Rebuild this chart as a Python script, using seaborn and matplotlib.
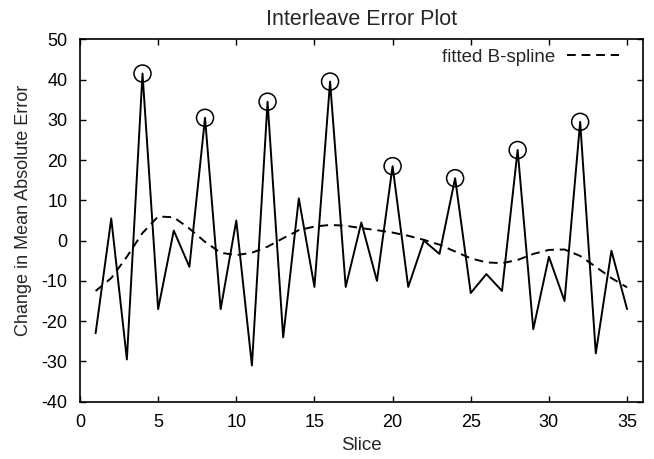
import matplotlib
matplotlib.use("Agg")
import matplotlib.pyplot as plt
import seaborn as sns
import pandas as pd

# valores
slices = list(range(1, 36))
mae_change = [-23, 5.5, -29.5, 41.5, -17, 2.5, -6.5, 30.5, -17, 5, -31,
              34.5, -24, 10.5, -11.5, 39.5, -11.5, 4.5, -10, 18.5, -11.5,
              0, -3.3, 15.5, -13, -8.3, -12.5, 22.5, -22, -4, -15,
              29.5, -28, -2.5, -17]
spline = [-12.5, -9.3, -4, 1.9, 6, 5.8, 3, -0.3, -3, -3.6, -3,
          -1.5, 0.6, 2.6, 3.5, 3.9, 3.7, 3.1, 2.6, 2.0, 1.2,
          0.2, -1, -2.7, -4.4, -5.4, -5.6, -4.8, -3.3, -2.3, -2.2,
          -3.8, -6.5, -9.3, -11.6]
peak_slices = [4, 8, 12, 16, 20, 24, 28, 32]

df = pd.DataFrame({"Slice": slices, "erro": mae_change, "spline": spline})
picos = df[df["Slice"].isin(peak_slices)]

sns.set_style("ticks")
plt.rcParams["font.family"] = ["Liberation Sans", "DejaVu Sans"]
plt.rcParams["axes.unicode_minus"] = False

fig = plt.figure(figsize=(6.54, 4.59), dpi=100)
ax = fig.add_axes([0.1223, 0.1248, 0.8604, 0.7896])

sns.lineplot(data=df, x="Slice", y="erro", color="black", lw=1.4, ax=ax)
sns.lineplot(data=df, x="Slice", y="spline", color="black", lw=1.4,
             linestyle=(0, (4.5, 3)), label="fitted B-spline", ax=ax)
sns.scatterplot(data=picos, x="Slice", y="erro", s=150, facecolors="none",
                edgecolor="black", linewidth=1.1, ax=ax, zorder=3)

ax.set_xlim(0, 36)
ax.set_ylim(-40, 50)
ax.set_xticks(range(0, 36, 5))
ax.set_yticks(range(-40, 51, 10))
ax.tick_params(direction="in", length=4, width=1, top=True, right=True,
               labelsize=13, colors="black", pad=9)
for s in ax.spines.values():
    s.set_linewidth(1.2)
    s.set_color("black")

ax.set_title("Interleave Error Plot", fontsize=15.5, pad=10)
ax.set_xlabel("Slice", fontsize=13.5, labelpad=4)
ax.set_ylabel("Change in Mean Absolute Error", fontsize=13)
ax.yaxis.set_label_coords(-0.086, 0.529)

ax.legend(loc="upper right", bbox_to_anchor=(0.975, 1.0), frameon=False,
          markerfirst=False, fontsize=13.5, handlelength=2.8,
          borderaxespad=0.1, handletextpad=0.6)

fig.savefig("out.png", dpi=100)
